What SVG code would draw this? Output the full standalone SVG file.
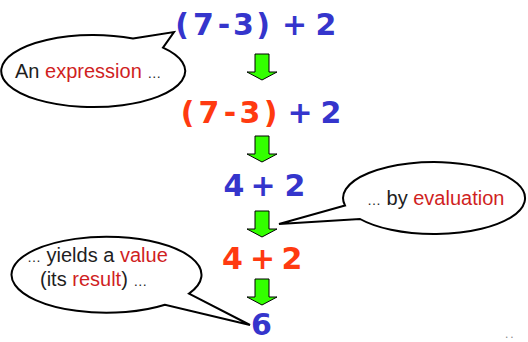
<svg xmlns="http://www.w3.org/2000/svg" width="528" height="342" viewBox="0 0 528 342">
<style>
.expr{font-family:"DejaVu Sans",Verdana,sans-serif;font-weight:bold;font-size:30px;text-anchor:middle}
.b{fill:#3535cc}
.r{fill:#ff3a10}
.lbl{font-family:"Liberation Sans",Arial,sans-serif;font-size:20px;fill:#1e1e1e}
.el{font-size:14px}
.hl{fill:#d01f1f}
.bubble{fill:#fff;stroke:#000;stroke-width:2;stroke-linejoin:miter}
.arr{fill:#33ff00;stroke:#000;stroke-width:1}
</style>
<defs>
<path id="downArrow" d="M-7,0 H7 V18 H15 L0,26 L-15,18 H-7 Z"/>
</defs>
<rect width="528" height="342" fill="#fff"/>
<g id="connectors">
<use href="#downArrow" class="arr" transform="translate(262,54)"/>
<use href="#downArrow" class="arr" transform="translate(262,136)"/>
<use href="#downArrow" class="arr" transform="translate(262,211)"/>
<use href="#downArrow" class="arr" transform="translate(262,279)"/>
</g>
<g id="expr1"><text class="expr b" x="182 203.5 224 243.5 263 294.5 326" y="35">(7-3)+2</text></g>
<g id="expr2"><text class="expr" y="123"><tspan class="r" x="187.5 209 230 250 270.5">(7-3)</tspan><tspan class="b" x="300 331">+2</tspan></text></g>
<g id="expr3"><text class="expr b" x="234 263 295" y="196">4+2</text></g>
<g id="expr4"><text class="expr r" x="232.5 262.5 292" y="269">4+2</text></g>
<g id="expr5"><text class="expr b" x="261.5" y="335">6</text></g>
<g id="callout-expression">
<path class="bubble" d="M133,38.6 L174,32 L163,47.6 A92,36 0 1 1 133,38.6 Z"/>
<text class="lbl" x="15" y="78">An <tspan class="hl">expression</tspan> <tspan class="el">…</tspan></text>
</g>
<g id="callout-evaluation">
<path class="bubble" d="M345,205.5 L279,224 L360,219 A91,36 0 1 0 345,205.5 Z"/>
<text class="lbl" x="367" y="205"><tspan class="el">…</tspan> by <tspan class="hl">evaluation</tspan></text>
</g>
<g id="callout-value">
<path class="bubble" d="M189,293.6 L250,325 L165,304.7 A95,38 0 1 1 189,293.6 Z"/>
<text class="lbl" x="27" y="262"><tspan class="el">…</tspan> yields a <tspan class="hl">value</tspan></text>
<text class="lbl" x="40" y="286">(its <tspan class="hl">result</tspan>) <tspan class="el">…</tspan></text>
</g>
<text x="505" y="338" font-family="Liberation Sans,sans-serif" font-size="12" fill="#888" letter-spacing="2">..</text>
</svg>
